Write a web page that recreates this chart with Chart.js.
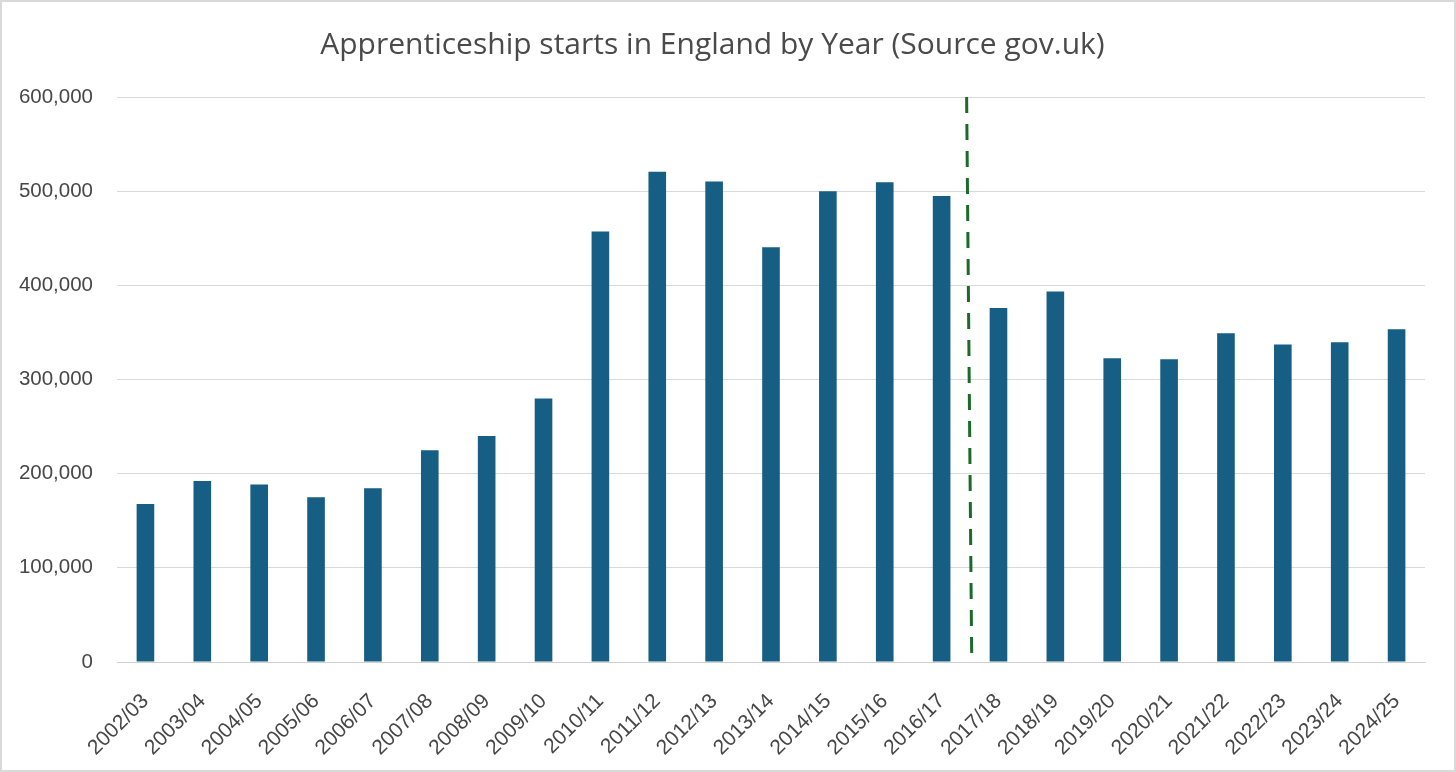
<!DOCTYPE html>
<html>
<head>
<meta charset="utf-8">
<script src="https://cdn.jsdelivr.net/npm/chart.js@4.4.1/dist/chart.umd.min.js"></script>
<style>
  html, body { margin: 0; padding: 0; background: #fff; }
  #wrap { position: relative; width: 1456px; height: 772px; }
</style>
</head>
<body>
<div id="wrap"><canvas id="startsChart" width="1456" height="772"></canvas></div>
<script>
// apprenticeship starts by academic year
const years = ['2002/03', '2003/04', '2004/05', '2005/06', '2006/07', '2007/08', '2008/09',
  '2009/10', '2010/11', '2011/12', '2012/13', '2013/14', '2014/15', '2015/16', '2016/17',
  '2017/18', '2018/19', '2019/20', '2020/21', '2021/22', '2022/23', '2023/24', '2024/25'];
const starts = [167700, 192300, 188400, 174900, 184400, 224800, 239900,
  279700, 457200, 520600, 510200, 440400, 499900, 509400, 494900,
  375800, 393400, 322500, 321400, 349200, 337100, 339600, 353300];
const yTicks = [0, 100000, 200000, 300000, 400000, 500000, 600000];

// levy line sits between 2016/17 and 2017/18 (slightly slanted in the original)
const levyLineTop = 14.44;
const levyLineBottom = 14.53;

const textGrey = '#474747';

const frameAndLine = {
  id: 'frameAndLine',
  beforeDraw(chart) {
    const c = chart.ctx;
    c.save();
    c.fillStyle = '#fff';
    c.fillRect(0, 0, chart.width, chart.height);
    c.restore();
  },
  afterDatasetsDraw(chart) {
    const c = chart.ctx;
    const x = chart.scales.x, y = chart.scales.y;
    c.save();
    c.strokeStyle = '#1b6a27';
    c.lineWidth = 3;
    c.setLineDash([16, 11]);
    c.beginPath();
    c.moveTo(x.getPixelForValue(levyLineTop), y.getPixelForValue(yTicks[yTicks.length - 1]));
    c.lineTo(x.getPixelForValue(levyLineBottom), y.getPixelForValue(0));
    c.stroke();
    c.restore();
  },
  afterDraw(chart) {
    const c = chart.ctx;
    c.save();
    c.strokeStyle = '#d9d9d9';
    c.lineWidth = 2;
    c.strokeRect(1, 1, chart.width - 2, chart.height - 2);
    c.restore();
  }
};

new Chart(document.getElementById('startsChart').getContext('2d'), {
  type: 'bar',
  data: {
    labels: years,
    datasets: [{
      label: 'Apprenticeship starts',
      data: starts,
      backgroundColor: '#165e83',
      barPercentage: 0.31,
      categoryPercentage: 1
    }]
  },
  options: {
    responsive: false,
    animation: false,
    devicePixelRatio: 1,
    layout: { padding: { left: 0, right: 31, top: 0, bottom: 0 } },
    plugins: {
      legend: { display: false },
      tooltip: { enabled: false },
      title: {
        display: true,
        text: 'Apprenticeship starts in England by Year (Source gov.uk)',
        color: '#4a4a4a',
        font: { family: 'Open Sans', size: 30, weight: 'normal' },
        padding: { top: 27, bottom: 34 }
      }
    },
    scales: {
      x: {
        grid: { display: false, drawTicks: false },
        border: { color: '#d0d0d0', width: 1 },
        ticks: {
          color: textGrey,
          font: { family: 'Liberation Sans', size: 21 },
          maxRotation: 45,
          minRotation: 45,
          padding: 27,
          autoSkip: false
        },
        afterFit(scale) { scale.height = 110; }
      },
      y: {
        min: 0,
        max: 600000,
        afterBuildTicks(scale) { scale.ticks = yTicks.map(v => ({ value: v })); },
        grid: { color: '#d9d9d9', lineWidth: 1, drawTicks: false },
        border: { display: false },
        ticks: {
          color: textGrey,
          font: { family: 'Liberation Sans', size: 20.5 },
          padding: 24,
          callback: v => v.toLocaleString('en-GB')
        },
        afterFit(scale) { scale.width = 117; }
      }
    }
  },
  plugins: [frameAndLine]
});
</script>
</body>
</html>
